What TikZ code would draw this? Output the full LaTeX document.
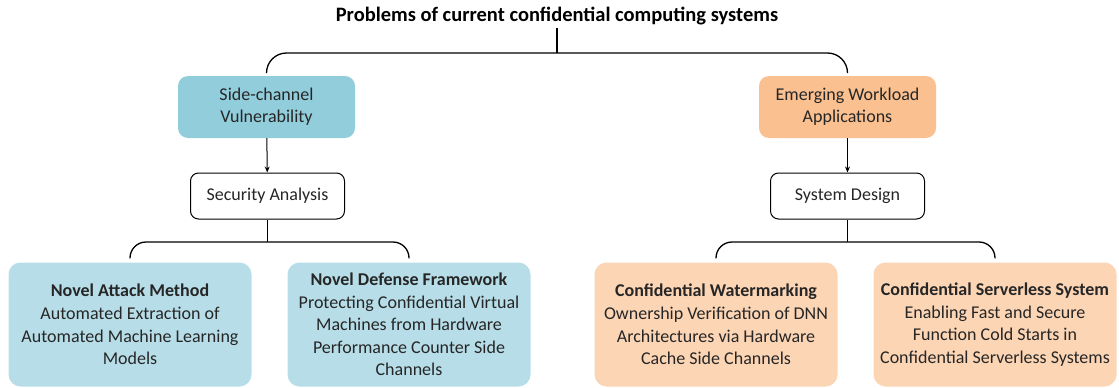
\documentclass[tikz,border=0pt]{standalone}
\usepackage{fontspec}
\setmainfont{Carlito}
\usetikzlibrary{arrows.meta}
\definecolor{sideblue}{HTML}{92CDDC}
\definecolor{paleblue}{HTML}{B7DEE8}
\definecolor{workorange}{HTML}{FAC090}
\definecolor{paleorange}{HTML}{FCD5B5}
\tikzset{
	topbox/.style={rounded corners=10pt, minimum width=177pt, minimum height=62pt, align=center},
	midbox/.style={draw, line width=1pt, rounded corners=8pt, minimum width=154pt, minimum height=46pt, align=center, fill=white},
	leafbox/.style={rounded corners=12pt, minimum width=243pt, minimum height=124pt, align=center, inner sep=2pt, font=\fontsize{18}{22.6}\selectfont},
	brace/.style={line width=1.3pt, rounded corners=20pt},
	down/.style={line width=1pt, -{Stealth[length=6pt, width=5pt]}}
	}

\begin{document}
\begin{tikzpicture}[x=1pt, y=-1pt, font=\fontsize{18}{22}\selectfont, text=black!85]

	\useasboundingbox (0,0) rectangle (1119,388);

	% heading
	\node[font=\fontsize{20.5}{24}\selectfont\bfseries, text=black, inner sep=3pt] (title) at (557,16) {Problems of current confidential computing systems};

	% first level
	\node[topbox, fill=sideblue] (side) at (266.5,107) {Side-channel\\Vulnerability};
	\node[topbox, fill=workorange] (work) at (847.5,107) {Emerging Workload\\Applications};

	% second level
	\node[midbox] (secan) at (267.5,196) {Security Analysis};
	\node[midbox] (sysd) at (847.5,196) {System Design};

	% leaves
	\node[leafbox, fill=paleblue] (attack) at (130,324.5) {\textbf{Novel Attack Method}\\Automated Extraction of\\Automated Machine Learning\\Models};
	\node[leafbox, fill=paleblue] (defense) at (409,324.5) {\textbf{Novel Defense Framework}\\Protecting Confidential Virtual\\Machines from Hardware\\Performance Counter Side\\Channels};
	\node[leafbox, fill=paleorange] (water) at (716,324.5) {\textbf{Confidential Watermarking}\\Ownership Verification of DNN\\Architectures via Hardware\\Cache Side Channels};
	\node[leafbox, fill=paleorange] (serverless) at (995,324.5) {\textbf{Confidential Serverless System}\\Enabling Fast and Secure\\Function Cold Starts in\\Confidential Serverless Systems};

	% top brace
	\coordinate (topjoin) at (557,53);
	\draw[line width=1.3pt] (title.south) -- (topjoin);
	\draw[brace] ([yshift=4pt]side.north) |- (topjoin) -| ([yshift=4pt]work.north);

	% arrows down
	\draw[down] (side) -- (secan);
	\draw[down] (work) -- (sysd);

	% lower braces
	\coordinate (leftjoin) at (267.5,242);
	\coordinate (rightjoin) at (847.5,242);
	\draw[line width=1.3pt] (secan) -- (leftjoin);
	\draw[line width=1.3pt] (sysd) -- (rightjoin);
	\draw[brace, rounded corners=16pt] ([yshift=4pt]attack.north) |- (leftjoin) -| ([yshift=4pt]defense.north);
	\draw[brace, rounded corners=16pt] ([yshift=4pt]water.north) |- (rightjoin) -| ([yshift=4pt]serverless.north);

\end{tikzpicture}
\end{document}
